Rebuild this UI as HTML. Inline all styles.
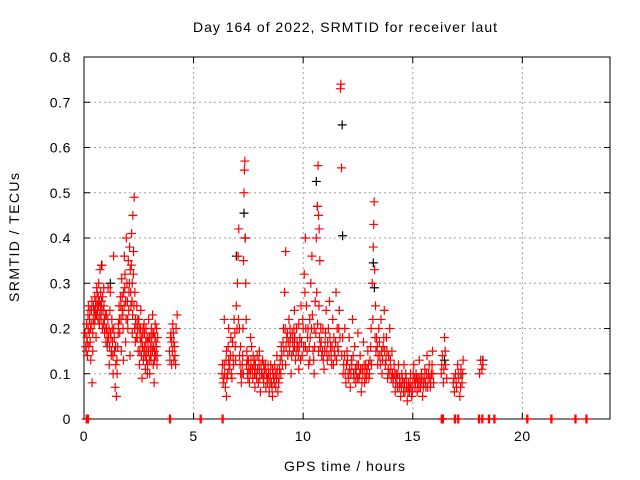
<!DOCTYPE html>
<html><head><meta charset="utf-8"><style>
html,body{margin:0;padding:0;background:#fff;}
svg{display:block;font-family:"Liberation Sans",sans-serif;}
</style></head><body>
<svg id="chart" width="640" height="480" viewBox="0 0 640 480">
<rect width="640" height="480" fill="#fff"/>
<text x="193" y="32" font-size="14" textLength="304" lengthAdjust="spacing">Day 164 of 2022, SRMTID for receiver laut</text>
<g id="grid"></g>
<g id="axes"></g>
<g id="marks"></g>
<text x="284" y="471" font-size="14" textLength="121" lengthAdjust="spacing">GPS time / hours</text>
<text transform="translate(19,302) rotate(-90)" font-size="14" textLength="129" lengthAdjust="spacing">SRMTID / TECUs</text>
</svg>
<script>
const xTicks=[0,5,10,15,20];
const yTicks=[0,0.1,0.2,0.3,0.4,0.5,0.6,0.7,0.8];
const yTickLabels=["0","0.1","0.2","0.3","0.4","0.5","0.6","0.7","0.8"];
const clusterA=[[0.10,0.15],[0.13,0.18],[0.16,0.14],[0.19,0.20],[0.22,0.16],[0.25,0.22],[0.28,0.17],[0.31,0.13],[0.34,0.24],[0.37,0.08],[0.40,0.19],[0.43,0.25],[0.46,0.21],[0.49,0.27],[0.52,0.23],[0.55,0.18],[0.58,0.29],[0.61,0.25],[0.64,0.22],[0.67,0.30],[0.70,0.26],[0.73,0.33],[0.76,0.28],[0.79,0.24],[0.82,0.34],[0.85,0.27],[0.88,0.21],[0.91,0.25],[0.94,0.19],[0.97,0.23],[0.12,0.21],[0.2,0.25],[0.3,0.2],[0.4,0.15],[0.5,0.22],[0.6,0.28],[0.7,0.21],[0.8,0.26],[0.9,0.29],[1.0,0.17],[0.45,0.24],[0.55,0.26],[0.65,0.27],[0.75,0.25]];
const clusterB=[[1.03,0.2],[1.06,0.16],[1.09,0.22],[1.12,0.18],[1.15,0.12],[1.18,0.24],[1.21,0.19],[1.24,0.14],[1.27,0.22],[1.3,0.17],[1.33,0.1],[1.36,0.2],[1.39,0.15],[1.42,0.07],[1.45,0.12],[1.48,0.05],[1.51,0.1],[1.54,0.16],[1.57,0.21],[1.6,0.25],[1.1,0.29],[1.2,0.28],[1.35,0.36]];
const clusterC=[[1.63,0.19],[1.66,0.27],[1.69,0.22],[1.72,0.31],[1.75,0.24],[1.78,0.2],[1.81,0.28],[1.84,0.36],[1.87,0.32],[1.9,0.26],[1.93,0.4],[1.96,0.3],[1.99,0.22],[2.02,0.35],[2.05,0.28],[2.08,0.38],[2.11,0.33],[2.14,0.25],[2.17,0.41],[2.2,0.3],[2.23,0.45],[2.26,0.37],[2.29,0.49],[2.32,0.28],[2.35,0.22],[2.38,0.18],[1.7,0.15],[1.8,0.13],[1.9,0.17],[2.0,0.2],[2.1,0.14],[2.2,0.19]];
const clusterD=[[2.41,0.25],[2.44,0.2],[2.47,0.15],[2.5,0.22],[2.53,0.12],[2.56,0.18],[2.59,0.24],[2.62,0.14],[2.65,0.09],[2.68,0.19],[2.71,0.13],[2.74,0.21],[2.77,0.16],[2.8,0.11],[2.83,0.2],[2.86,0.15],[2.89,0.1],[2.92,0.17],[2.95,0.22],[2.98,0.13],[3.01,0.18],[3.04,0.14],[3.07,0.2],[3.1,0.16],[3.13,0.23],[3.16,0.12],[3.19,0.19],[3.22,0.15],[3.25,0.21],[3.28,0.17],[3.31,0.2],[3.34,0.14],[2.6,0.17],[2.9,0.12],[3.0,0.1],[3.2,0.08]];
const clusterE=[[3.9,0.15],[3.95,0.18],[4.0,0.12],[4.05,0.21],[4.1,0.17],[4.15,0.14],[4.2,0.2],[4.25,0.23],[4.0,0.17],[4.1,0.13]];
const clusterF=[[6.3,0.1],[6.35,0.08],[6.4,0.12],[6.45,0.07],[6.5,0.15],[6.55,0.1],[6.6,0.2],[6.65,0.12],[6.7,0.18],[6.75,0.09],[6.8,0.14],[6.85,0.22],[6.9,0.16],[6.95,0.25],[7.0,0.3],[7.03,0.36],[7.06,0.42],[7.09,0.2],[7.12,0.12],[7.15,0.1],[7.18,0.08],[6.4,0.22],[6.5,0.05],[6.6,0.13]];
const clusterG=[[7.22,0.12],[7.25,0.2],[7.28,0.35],[7.3,0.5],[7.32,0.55],[7.34,0.57],[7.36,0.4],[7.38,0.3],[7.4,0.22],[7.43,0.15],[7.46,0.1],[7.5,0.13],[7.55,0.08],[7.6,0.11],[7.65,0.16],[7.7,0.09],[7.75,0.12],[7.8,0.07],[7.85,0.1],[7.9,0.14],[7.95,0.08],[8.0,0.11],[8.05,0.06],[8.1,0.1],[8.15,0.13],[8.2,0.08],[8.25,0.11],[8.3,0.07],[8.35,0.09],[8.4,0.12],[8.45,0.06],[8.5,0.1],[8.55,0.08],[8.6,0.05],[8.65,0.09],[8.7,0.12],[8.75,0.07],[8.8,0.1],[8.85,0.06],[8.9,0.09],[8.95,0.13],[7.6,0.18],[7.8,0.13],[8.0,0.15],[8.2,0.12],[8.4,0.09],[8.6,0.11],[8.8,0.14]];
const clusterH=[[9.0,0.16],[9.05,0.12],[9.1,0.2],[9.15,0.28],[9.2,0.37],[9.25,0.18],[9.3,0.14],[9.35,0.22],[9.4,0.17],[9.45,0.1],[9.5,0.19],[9.55,0.15],[9.6,0.24],[9.65,0.13],[9.7,0.2],[9.75,0.16],[9.8,0.11],[9.85,0.18],[9.9,0.25],[9.95,0.14],[9.2,0.12],[9.4,0.2],[9.6,0.16],[9.8,0.21]];
const clusterI=[[10.0,0.2],[10.05,0.32],[10.1,0.4],[10.15,0.25],[10.2,0.18],[10.25,0.12],[10.3,0.22],[10.35,0.3],[10.4,0.36],[10.45,0.15],[10.5,0.1],[10.55,0.26],[10.6,0.4],[10.65,0.47],[10.68,0.56],[10.7,0.45],[10.73,0.42],[10.76,0.35],[10.8,0.2],[10.1,0.16],[10.3,0.13],[10.5,0.2],[10.7,0.15]];
const clusterJ=[[10.85,0.14],[10.9,0.2],[10.95,0.11],[11.0,0.17],[11.05,0.24],[11.1,0.13],[11.15,0.2],[11.2,0.26],[11.25,0.16],[11.3,0.12],[11.35,0.22],[11.4,0.18],[11.45,0.14],[11.5,0.28],[11.55,0.2],[11.6,0.15],[11.65,0.24],[11.7,0.73],[11.72,0.74],[11.75,0.555],[11.8,0.18]];
const clusterK=[[11.85,0.12],[11.9,0.2],[11.95,0.08],[12.0,0.15],[12.05,0.1],[12.1,0.18],[12.15,0.07],[12.2,0.13],[12.25,0.22],[12.3,0.1],[12.35,0.16],[12.4,0.08],[12.45,0.12],[12.5,0.19],[12.55,0.09],[12.6,0.14],[12.65,0.06],[12.7,0.11],[12.75,0.17],[12.8,0.08],[12.85,0.12],[12.9,0.1],[12.95,0.15],[13.0,0.09],[13.05,0.13]];
const clusterL=[[13.1,0.2],[13.15,0.3],[13.2,0.38],[13.22,0.43],[13.24,0.48],[13.26,0.33],[13.3,0.25],[13.35,0.18],[13.4,0.12],[13.45,0.2],[13.5,0.14],[13.55,0.22],[13.6,0.1],[13.65,0.16],[13.7,0.24],[13.75,0.12],[13.8,0.18],[13.85,0.09],[13.9,0.14],[13.95,0.2],[14.0,0.11],[14.05,0.15],[14.1,0.08],[14.15,0.12],[14.2,0.06]];
const clusterM=[[14.25,0.1],[14.3,0.07],[14.35,0.12],[14.4,0.09],[14.45,0.05],[14.5,0.1],[14.55,0.08],[14.6,0.12],[14.65,0.06],[14.7,0.09],[14.75,0.04],[14.8,0.08],[14.85,0.06],[14.9,0.1],[14.95,0.05],[15.0,0.08],[15.05,0.12],[15.1,0.07],[15.15,0.1],[15.2,0.06],[15.25,0.09],[15.3,0.13],[15.35,0.07],[15.4,0.1],[15.45,0.05],[15.5,0.08],[15.55,0.11],[15.6,0.07],[15.65,0.14],[15.7,0.09],[15.75,0.12],[15.8,0.07],[15.85,0.1],[15.9,0.15],[15.95,0.08]];
const clusterN=[[16.3,0.1],[16.35,0.14],[16.4,0.08],[16.45,0.18],[16.5,0.12],[16.55,0.09],[16.85,0.08],[16.9,0.06],[16.95,0.1],[17.0,0.07],[17.05,0.12],[17.1,0.09],[17.15,0.05],[17.2,0.11],[17.25,0.08],[17.3,0.13],[18.05,0.1],[18.1,0.13],[18.15,0.11],[18.2,0.12]];
const extraEarly=[[0.05,0.19],[0.08,0.16],[0.15,0.17],[0.18,0.23],[0.24,0.19],[0.27,0.24],[0.33,0.21],[0.36,0.26],[0.42,0.22],[0.48,0.24],[0.53,0.25],[0.57,0.23],[0.62,0.24],[0.66,0.25],[0.72,0.23],[0.78,0.22],[0.84,0.2],[0.87,0.24],[0.93,0.22],[0.96,0.2],[1.02,0.23],[1.05,0.19],[1.08,0.17],[1.14,0.2],[1.17,0.16],[1.23,0.18],[1.26,0.15],[1.29,0.2],[1.32,0.14],[1.38,0.18],[1.44,0.16],[1.5,0.13],[1.56,0.19],[1.62,0.22],[1.68,0.25],[1.74,0.27],[1.77,0.23],[1.83,0.25],[1.86,0.29],[1.92,0.22],[1.98,0.26],[2.04,0.24],[2.07,0.3],[2.13,0.28],[2.16,0.34],[2.19,0.26],[2.22,0.23],[2.25,0.32],[2.28,0.25],[2.31,0.2],[2.34,0.17],[2.37,0.21],[2.43,0.18],[2.46,0.22],[2.52,0.2],[2.55,0.15],[2.58,0.2],[2.64,0.18],[2.67,0.16],[2.7,0.2],[2.73,0.15],[2.76,0.19],[2.79,0.14],[2.82,0.17],[2.85,0.13],[2.88,0.18],[2.94,0.15],[2.97,0.18],[3.03,0.16],[3.06,0.13],[3.09,0.18],[3.12,0.15],[3.15,0.19],[3.18,0.16],[3.21,0.13],[3.24,0.18],[3.27,0.14],[3.3,0.16],[3.33,0.12],[3.36,0.18],[3.92,0.13],[3.97,0.19],[4.03,0.15],[4.08,0.19],[4.13,0.16],[4.18,0.12]];
const extraMid=[[6.32,0.12],[6.38,0.09],[6.42,0.1],[6.48,0.13],[6.52,0.09],[6.58,0.16],[6.62,0.11],[6.68,0.14],[6.72,0.1],[6.78,0.17],[6.82,0.12],[6.88,0.19],[6.92,0.13],[6.98,0.2],[7.05,0.22],[7.1,0.14],[7.14,0.16],[7.2,0.1],[7.24,0.14],[7.27,0.1],[7.42,0.12],[7.45,0.13],[7.48,0.09],[7.52,0.11],[7.58,0.1],[7.62,0.13],[7.68,0.11],[7.72,0.14],[7.78,0.1],[7.82,0.12],[7.88,0.09],[7.92,0.11],[7.98,0.13],[8.02,0.09],[8.08,0.12],[8.12,0.1],[8.18,0.09],[8.22,0.1],[8.28,0.12],[8.32,0.1],[8.38,0.08],[8.42,0.1],[8.48,0.08],[8.52,0.12],[8.58,0.07],[8.62,0.1],[8.68,0.08],[8.72,0.1],[8.78,0.09],[8.82,0.11],[8.88,0.08],[8.92,0.11],[8.98,0.1],[9.02,0.14],[9.08,0.17],[9.12,0.15],[9.18,0.2],[9.22,0.16],[9.28,0.19],[9.32,0.17],[9.38,0.15],[9.42,0.18],[9.48,0.14],[9.52,0.17],[9.58,0.2],[9.62,0.18],[9.68,0.15],[9.72,0.17],[9.78,0.14],[9.82,0.16],[9.88,0.13],[9.92,0.17],[9.98,0.22],[10.02,0.16],[10.08,0.28],[10.12,0.2],[10.18,0.15],[10.22,0.2],[10.28,0.16],[10.32,0.18],[10.38,0.2],[10.42,0.23],[10.48,0.13],[10.52,0.16],[10.58,0.19],[10.62,0.28],[10.66,0.21],[10.72,0.25],[10.75,0.18],[10.78,0.16],[10.82,0.17],[10.88,0.15],[10.92,0.13],[10.98,0.15],[11.02,0.19],[11.08,0.15],[11.12,0.17],[11.18,0.14],[11.22,0.18],[11.28,0.14],[11.32,0.16],[11.38,0.12],[11.42,0.15],[11.48,0.17],[11.52,0.13],[11.58,0.16],[11.62,0.2],[11.68,0.18],[11.76,0.14],[11.82,0.1],[11.88,0.14],[11.92,0.1],[11.98,0.12],[12.02,0.13],[12.08,0.09],[12.12,0.11],[12.18,0.1],[12.22,0.12],[12.28,0.14],[12.32,0.09],[12.38,0.11],[12.42,0.1],[12.48,0.09],[12.52,0.12],[12.58,0.1],[12.62,0.11],[12.68,0.08],[12.72,0.1],[12.78,0.12],[12.82,0.1],[12.88,0.09],[12.92,0.11],[12.98,0.12],[13.02,0.1],[13.08,0.16],[13.12,0.12],[13.18,0.22],[13.28,0.18],[13.32,0.15],[13.38,0.16],[13.42,0.14],[13.48,0.17],[13.52,0.12],[13.58,0.15],[13.62,0.13],[13.68,0.18],[13.72,0.15],[13.78,0.13],[13.82,0.15],[13.88,0.11],[13.92,0.1],[13.98,0.13],[14.02,0.09],[14.08,0.1],[14.12,0.09],[14.18,0.1],[14.22,0.08],[14.28,0.09],[14.32,0.1],[14.38,0.07],[14.42,0.08],[14.48,0.07],[14.52,0.09],[14.58,0.06],[14.62,0.08],[14.68,0.1],[14.72,0.07],[14.78,0.06],[14.82,0.07],[14.88,0.08],[14.92,0.07],[14.98,0.06],[15.02,0.1],[15.08,0.09],[15.12,0.08],[15.18,0.09],[15.22,0.08],[15.28,0.07],[15.32,0.09],[15.38,0.08],[15.42,0.09],[15.48,0.07],[15.52,0.09],[15.58,0.08],[15.62,0.1],[15.68,0.07],[15.72,0.1],[15.78,0.09],[15.82,0.08],[15.88,0.12],[15.92,0.1],[16.32,0.12],[16.42,0.11],[16.48,0.15],[16.88,0.09],[16.98,0.08],[17.08,0.1],[17.18,0.07],[17.28,0.1]];
const zeroHours=[0.1,0.15,3.9,5.3,6.3,16.3,16.35,16.9,17.05,18.0,18.15,18.45,18.7,20.2,21.3,22.4,22.9];
const blackPoints=[[7.3,0.455],[7.35,0.4],[10.6,0.525],[10.65,0.47],[11.78,0.65],[11.8,0.405],[13.2,0.345],[13.25,0.29],[6.95,0.36],[0.8,0.34],[1.2,0.3],[9.6,0.18],[16.45,0.13],[18.2,0.13],[17.2,0.1]];

const X0=84,X1=610,Y0=419,Y1=57,XMAX=24,YMAX=0.8;
const xs=h=>X0+(X1-X0)*h/XMAX;
const ys=v=>Y0-(Y0-Y1)*v/YMAX;
const NS="http://www.w3.org/2000/svg";
function mk(tag,attrs,parent){const e=document.createElementNS(NS,tag);for(const k in attrs)e.setAttribute(k,attrs[k]);parent.appendChild(e);return e;}
const grid=document.getElementById('grid'),axes=document.getElementById('axes'),marks=document.getElementById('marks');
xTicks.forEach(t=>{
  const x=xs(t);
  if(t>0){const g=mk('line',{x1:x,x2:x,y1:Y0,y2:Y1,stroke:'#a0a0a0','stroke-dasharray':'2,3'},grid);
  
  }
  mk('line',{x1:x,x2:x,y1:Y0,y2:Y0-6,stroke:'#000'},axes);
  mk('line',{x1:x,x2:x,y1:Y1,y2:Y1+6,stroke:'#000'},axes);
  const l=mk('text',{x:x,y:Y0+22,'font-size':14,'text-anchor':'middle','letter-spacing':'0.6'},axes);l.textContent=t;
  
  
});
yTicks.forEach((t,i)=>{
  const y=ys(t);
  if(t>0&&t<YMAX){const g=mk('line',{x1:X0,x2:X1,y1:y,y2:y,stroke:'#a0a0a0','stroke-dasharray':'2,3'},grid);
  
  }
  mk('line',{x1:X0,x2:X0+6,y1:y,y2:y,stroke:'#000'},axes);
  mk('line',{x1:X1,x2:X1-6,y1:y,y2:y,stroke:'#000'},axes);
  const l=mk('text',{x:X0-13,y:y+5,'font-size':14,'text-anchor':'end','letter-spacing':'0.6'},axes);l.textContent=yTickLabels[i];
  
  
});
const b=mk('rect',{x:X0,y:Y1,width:X1-X0,height:Y0-Y1,fill:'none',stroke:'#000'},axes);


function plus(h,v,color){
  const x=xs(h),y=ys(v);
  const p=mk('path',{d:`M${x-4.5},${y}H${x+4.5}M${x},${y-4.5}V${y+4.5}`,stroke:color,'stroke-width':1.2,fill:'none'},marks);
  
  
}
blackPoints.forEach(p=>plus(p[0],p[1],'#000'));
[clusterA,clusterB,clusterC,clusterD,clusterE,clusterF,clusterG,clusterH,clusterI,clusterJ,clusterK,clusterL,clusterM,clusterN,extraEarly,extraMid].forEach(c=>c.forEach(p=>plus(p[0],p[1],'#ff0000')));
zeroHours.forEach(h=>{plus(h,0,'#ff0000');plus(h+0.05,0,'#ff0000');});
</script>
</body></html>
